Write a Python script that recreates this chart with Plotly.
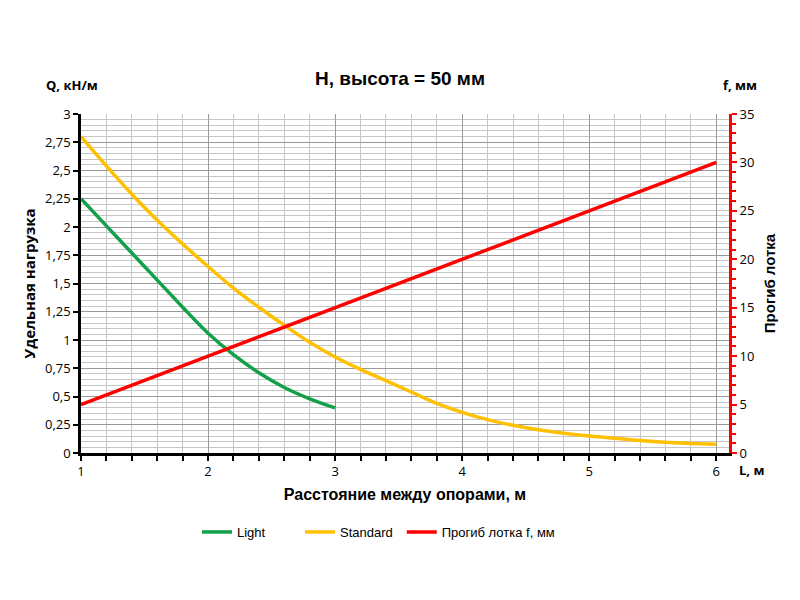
import plotly.graph_objects as go

# расстояние между опорами, м
light_x = [1.0, 1.2, 1.4, 1.6, 1.8, 2.0, 2.2, 2.4, 2.6, 2.8, 3.0]
light_q = [2.25, 2.01, 1.77, 1.53, 1.29, 1.06, 0.87, 0.71, 0.58, 0.48, 0.40]

standard_x = [1.0, 1.2, 1.4, 1.6, 1.8, 2.0, 2.2, 2.4, 2.6, 2.8, 3.0, 3.2, 3.4, 3.6,
              3.8, 4.0, 4.2, 4.4, 4.6, 4.8, 5.0, 5.2, 5.4, 5.6, 5.8, 6.0]
standard_q = [2.80, 2.54, 2.29, 2.06, 1.85, 1.65, 1.46, 1.29, 1.13, 0.98, 0.85, 0.74,
              0.64, 0.54, 0.44, 0.36, 0.295, 0.245, 0.205, 0.175, 0.15, 0.13, 0.11, 0.095,
              0.085, 0.077]

sag_x = [1, 2, 3, 4, 5, 6]
sag_f = [5, 10, 15, 20, 25, 30]

q_ticks = [0, 0.25, 0.5, 0.75, 1, 1.25, 1.5, 1.75, 2, 2.25, 2.5, 2.75, 3]
q_labels = ["0", "0,25", "0,5", "0,75", "1", "1,25", "1,5", "1,75", "2", "2,25", "2,5", "2,75", "3"]

FONT = "Open Sans"
BOLD = "Liberation Sans"

fig = go.Figure()
fig.add_trace(go.Scatter(x=light_x, y=light_q, name="Light", mode="lines",
                         line=dict(color="#13A04A", width=3.5, shape="spline")))
fig.add_trace(go.Scatter(x=standard_x, y=standard_q, name="Standard", mode="lines",
                         line=dict(color="#FFC000", width=3.5, shape="spline")))
fig.add_trace(go.Scatter(x=sag_x, y=sag_f, name="Прогиб лотка f, мм", mode="lines",
                         yaxis="y2", legend="legend2",
                         line=dict(color="#FF0000", width=3.5)))

# страница имеет отступ 8px, поэтому фигура чуть меньше окна
fig.update_layout(
    width=784, height=584,
    margin=dict(l=73, r=63, t=106, b=139),
    paper_bgcolor="white", plot_bgcolor="white",
    font=dict(family=FONT, size=13, color="black"),
    title=dict(text="<b>H, высота = 50 мм</b>", x=0.5, xanchor="center",
               y=0.88, yanchor="middle", font=dict(family=BOLD, size=19)),
    xaxis=dict(
        range=[1, 6.1], dtick=1, tick0=1,
        showgrid=True, gridcolor="#9A9A9A", gridwidth=1,
        minor=dict(dtick=0.2, showgrid=True, gridcolor="#C6C6C6",
                   ticks="outside", ticklen=5, tickcolor="black"),
        showline=True, linecolor="black", linewidth=2.5,
        ticks="outside", ticklen=5, tickcolor="black", tickwidth=1.5,
        zeroline=False,
        title=dict(text="<b>Расстояние между опорами, м</b>", standoff=10,
                   font=dict(family=BOLD, size=16)),
    ),
    yaxis=dict(
        range=[0, 3], tickvals=q_ticks, ticktext=q_labels,
        showgrid=True, gridcolor="#9A9A9A", gridwidth=1,
        minor=dict(dtick=0.05, showgrid=True, gridcolor="#C6C6C6"),
        showline=True, linecolor="black", linewidth=2.5,
        ticks="outside", ticklen=5, tickcolor="black", tickwidth=1.5,
        zeroline=False,
        title=dict(text="<b>Удельная нагрузка</b>", standoff=6,
                   font=dict(family=FONT, size=15)),
    ),
    yaxis2=dict(
        range=[0, 35], dtick=5, overlaying="y", side="right",
        showgrid=False, zeroline=False,
        showline=True, linecolor="#FF0000", linewidth=3,
        ticks="outside", ticklen=5, tickcolor="#FF0000", tickwidth=2,
        minor=dict(dtick=1, ticks="outside", ticklen=4, tickcolor="#FF0000"),
        title=dict(text="<b>Прогиб лотка</b>", standoff=12,
                   font=dict(family=BOLD, size=15)),
    ),
    legend=dict(orientation="h", x=0.179, xanchor="left", y=-0.233, yanchor="middle",
                font=dict(family=BOLD, size=13),
                entrywidth=58, entrywidthmode="pixels"),
    legend2=dict(orientation="h", x=0.495, xanchor="left", y=-0.233, yanchor="middle",
                 font=dict(family=BOLD, size=13)),
    annotations=[
        dict(text="<b>Q, кН/м</b>", xref="paper", yref="paper", x=-0.014, y=1.086,
             xanchor="center", yanchor="middle", showarrow=False, font=dict(size=13)),
        dict(text="<b>f, мм</b>", xref="paper", yref="paper", x=1.017, y=1.086,
             xanchor="center", yanchor="middle", showarrow=False, font=dict(size=13)),
        dict(text="<b>L, м</b>", xref="paper", yref="paper", x=1.034, y=-0.05,
             xanchor="center", yanchor="middle", showarrow=False, font=dict(size=13)),
    ],
)

fig.write_html("out.html")
